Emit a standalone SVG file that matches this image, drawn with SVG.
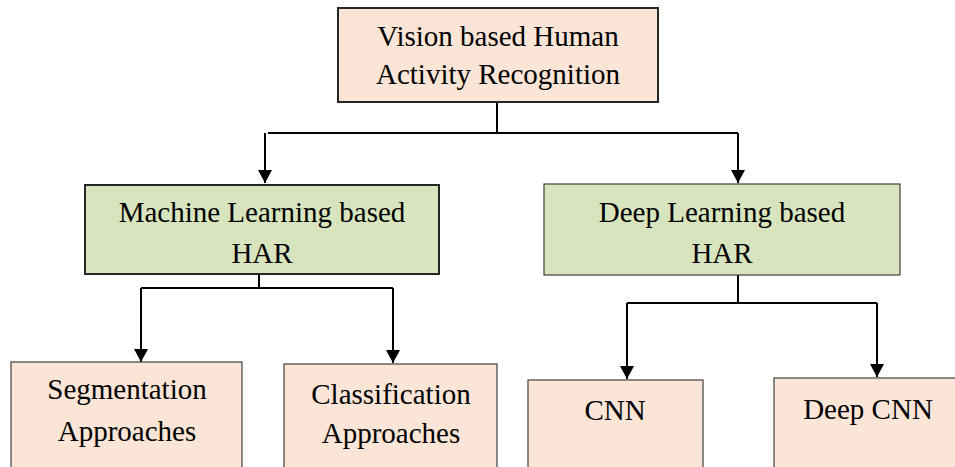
<svg xmlns="http://www.w3.org/2000/svg" width="955" height="467" viewBox="0 0 955 467">
<style>
text{font-family:"Liberation Serif","Times New Roman",serif;font-size:29px;fill:#000;text-anchor:middle}
.peach{fill:#FBE5D6}
.green{fill:#D7E4BD}
.b2{stroke:#262626;stroke-width:2}
.b1{stroke:#404040;stroke-width:1.2}
.conn{fill:none;stroke:#000;stroke-width:2}
</style>
<defs>
<marker id="arr" viewBox="0 0 13 14" refX="13" refY="7" markerWidth="13" markerHeight="14" markerUnits="userSpaceOnUse" orient="auto">
<path d="M0,0 L13,7 L0,14 Z" fill="#000"/>
</marker>
</defs>
<rect width="955" height="467" fill="#fff"/>
<g id="connectors">
<path class="conn" d="M497,102 V133 M268,133 H738"/>
<path class="conn" d="M265,133 V183" marker-end="url(#arr)"/>
<path class="conn" d="M738,133 V183" marker-end="url(#arr)"/>
<path class="conn" d="M259,274 V288 M141,288 H393"/>
<path class="conn" d="M141,288 V362" marker-end="url(#arr)"/>
<path class="conn" d="M393,288 V363" marker-end="url(#arr)"/>
<path class="conn" d="M738,275 V303 M627,303 H877"/>
<path class="conn" d="M627,303 V379" marker-end="url(#arr)"/>
<path class="conn" d="M877,303 V377" marker-end="url(#arr)"/>
</g>
<g id="root">
<rect x="338" y="8" width="320" height="94" class="peach b2"/>
<text x="498" y="46">Vision based Human</text>
<text x="498" y="84">Activity Recognition</text>
</g>
<g id="ml">
<rect x="85" y="185" width="354" height="89" class="green b2"/>
<text x="262" y="222">Machine Learning based</text>
<text x="262" y="263">HAR</text>
</g>
<g id="dl">
<rect x="544" y="184" width="356" height="91" class="green b1"/>
<text x="722" y="222">Deep Learning based</text>
<text x="722" y="263">HAR</text>
</g>
<g id="seg">
<rect x="11" y="362" width="231" height="120" class="peach b1"/>
<text x="127" y="399">Segmentation</text>
<text x="127" y="441">Approaches</text>
</g>
<g id="cls">
<rect x="284" y="364" width="213" height="120" class="peach b1"/>
<text x="391" y="404">Classification</text>
<text x="391" y="443">Approaches</text>
</g>
<g id="cnn">
<rect x="528" y="380" width="175" height="100" class="peach b1"/>
<text x="615" y="420">CNN</text>
</g>
<g id="dcnn">
<rect x="774" y="378" width="190" height="100" class="peach b1"/>
<text x="868" y="419">Deep CNN</text>
</g>
</svg>
